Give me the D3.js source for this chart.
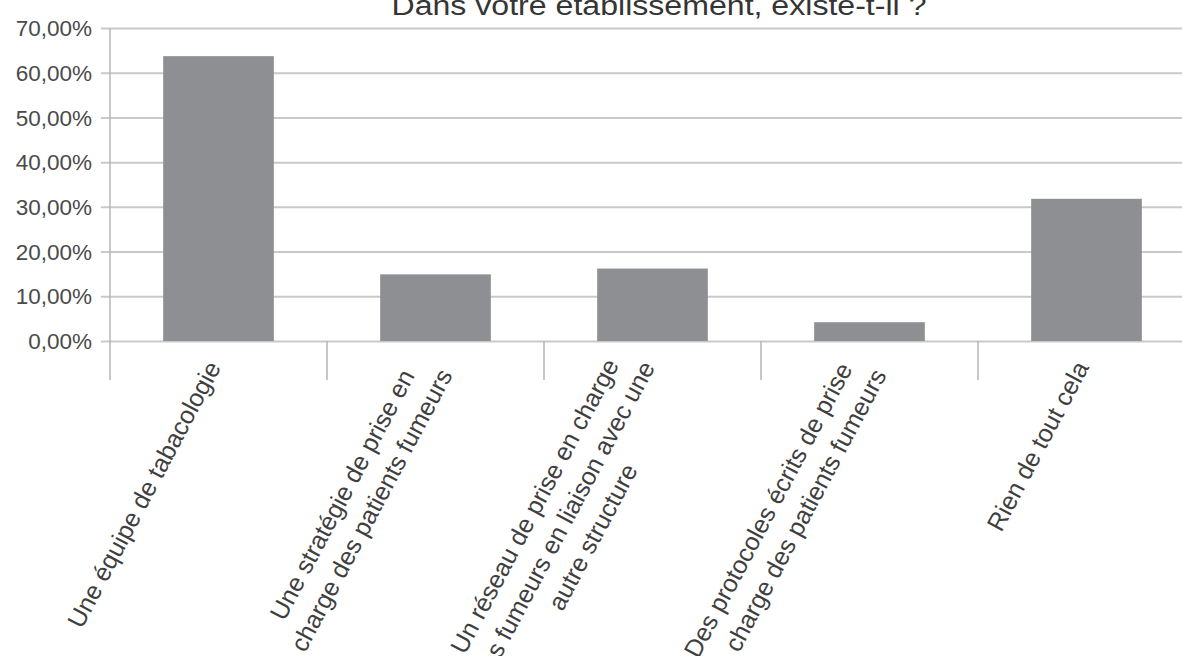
<!DOCTYPE html>
<html>
<head>
<meta charset="utf-8">
<script src="https://cdn.jsdelivr.net/npm/d3@7"></script>
<style>
  html, body { margin: 0; padding: 0; background: #fff; }
  svg { display: block; font-family: "Liberation Sans", Arial, Helvetica, sans-serif; }
</style>
</head>
<body>
<svg id="chart" width="1182" height="656"></svg>
<script>
// Survey answers: share of establishments having each measure
const categories = [
  ["Une équipe de tabacologie"],
  ["Une stratégie de prise en", "charge des patients fumeurs"],
  ["Un réseau de prise en charge", "des fumeurs en liaison avec une", "autre structure"],
  ["Des protocoles écrits de prise", "en charge des patients fumeurs"],
  ["Rien de tout cela"]
];
const values = [0.637, 0.149, 0.162, 0.042, 0.318];
const yTicks = [0, 0.1, 0.2, 0.3, 0.4, 0.5, 0.6, 0.7];
const title = "Dans votre établissement, existe-t-il ?";

const svg = d3.select("#chart");

const fr = d3.formatLocale({ decimal: ",", thousands: " ", grouping: [3], currency: ["", " €"], percent: "%" });
const pct = fr.format(".2%");

// Bars take about half of each category slot
const x = d3.scaleBand()
  .domain(d3.range(categories.length))
  .range([110, 1195])
  .paddingInner(0.49)
  .paddingOuter(0.245);

// Full-width slots, used for separators and label anchors
const band = d3.scaleBand()
  .domain(d3.range(categories.length))
  .range([110, 1195]);

const y = d3.scaleLinear().domain([0, 0.7]).range([341, 28]);

// Horizontal gridlines with short ticks left of the axis
const yAxis = d3.axisLeft(y)
  .tickValues(yTicks)
  .tickFormat(pct)
  .tickSize(-1100)
  .tickPadding(18);

const gy = svg.append("g")
  .attr("transform", "translate(110,0)")
  .call(yAxis);
gy.select(".domain").remove();
gy.selectAll(".tick line")
  .attr("x1", -9)
  .attr("stroke", "#c9c9c9")
  .attr("stroke-width", 2);
gy.selectAll(".tick text")
  .attr("fill", "#4a4a4a")
  .attr("font-size", 22.5)
  .attr("dy", "0.34em");

// Vertical axis line
svg.append("line")
  .attr("x1", 110).attr("x2", 110)
  .attr("y1", y(0.7)).attr("y2", 380)
  .attr("stroke", "#b5b5b5").attr("stroke-width", 1.5);

// Category separators below the baseline
const edges = d3.range(1, categories.length).map(i => band(i)).concat([band.range()[1]]);
svg.append("g")
  .selectAll("line")
  .data(edges)
  .join("line")
  .attr("x1", d => d)
  .attr("x2", d => d)
  .attr("y1", y(0)).attr("y2", 380)
  .attr("stroke", "#b5b5b5").attr("stroke-width", 1.5);

// Bars
svg.append("g")
  .selectAll("rect")
  .data(values)
  .join("rect")
  .attr("x", (d, i) => x(i))
  .attr("width", x.bandwidth())
  .attr("y", d => y(d))
  .attr("height", d => y(0) - y(d))
  .attr("fill", "#8e8f92");

// Rotated, multi-line category labels (lines centred within each block)
const angle = -62;
const lh = 33;
const labels = svg.append("g")
  .attr("fill", "#3f3f3f")
  .attr("font-size", 25);

categories.forEach((lines, i) => {
  const cx = band(i) + band.bandwidth() / 2;
  const g = labels.append("g")
    .attr("transform", `translate(${cx - 5},363) rotate(${angle})`);
  const texts = g.selectAll("text")
    .data(lines)
    .join("text")
    .attr("text-anchor", "middle")
    .attr("y", (d, k) => (k - (lines.length - 1) / 2) * lh + 9)
    .text(d => d);
  const maxLen = d3.max(texts.nodes(), n => n.getComputedTextLength());
  texts.attr("x", -maxLen / 2);
});

// Title
svg.append("text")
  .attr("x", 659)
  .attr("y", 15)
  .attr("text-anchor", "middle")
  .attr("font-size", 27)
  .attr("fill", "#353535")
  .attr("textLength", 535)
  .attr("lengthAdjust", "spacingAndGlyphs")
  .text(title);
</script>
</body>
</html>
